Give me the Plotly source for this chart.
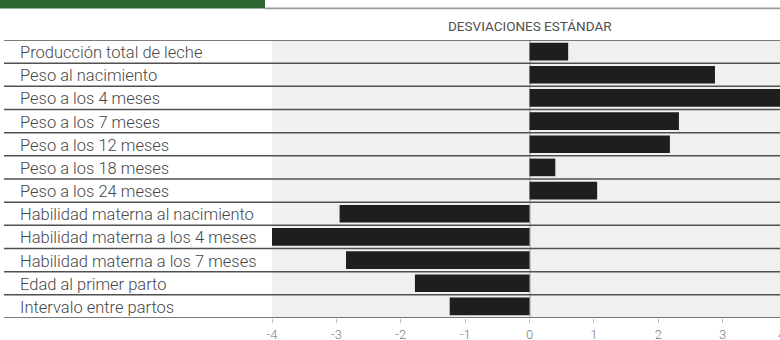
import plotly.graph_objects as go

# Data: standard deviations per trait
categories = [
    "Producción total de leche",
    "Peso al nacimiento",
    "Peso a los 4 meses",
    "Peso a los 7 meses",
    "Peso a los 12 meses",
    "Peso a los 18 meses",
    "Peso a los 24 meses",
    "Habilidad materna al nacimiento",
    "Habilidad materna a los 4 meses",
    "Habilidad materna a los 7 meses",
    "Edad al primer parto",
    "Intervalo entre partos",
]
values = [0.6, 2.88, 4.0, 2.32, 2.18, 0.4, 1.05, -2.95, -4.0, -2.85, -1.78, -1.24]
tick_values = [-4, -3, -2, -1, 0, 1, 2, 3, 4]
tick_labels = ["-4", "-3", "-2", "-1", "0", "1", "2", "3", "4"]
axis_title = "DESVIACIONES ESTÁNDAR"

# Layout geometry (pixels)
W, H = 780, 340
ML, MR, MT, MB = 272, 0, 40, 22
PW = W - ML - MR
PH = H - MT - MB
X_MIN, X_MAX = -4, 3.89

LIGHT = "Roboto Light, Roboto, sans-serif"


def px_to_paper_x(px):
    return (px - ML) / PW


def px_to_paper_y(py):
    return (H - MB - py) / PH


fig = go.Figure()
fig.add_trace(go.Bar(
    x=values,
    y=categories,
    orientation="h",
    marker=dict(color="#1e1e1e", line=dict(width=0)),
    hoverinfo="x+y",
))

shapes = []
# Row separators running across labels and plot
for i in range(len(categories) + 1):
    shapes.append(dict(
        type="line", xref="paper", yref="y",
        x0=px_to_paper_x(4), x1=1, y0=i - 0.5, y1=i - 0.5,
        line=dict(color="#505050", width=1.5), layer="above",
    ))
# Header band: green block and grey rule
shapes.append(dict(
    type="rect", xref="paper", yref="paper",
    x0=px_to_paper_x(0), x1=px_to_paper_x(265),
    y0=px_to_paper_y(8.5), y1=px_to_paper_y(-1),
    fillcolor="#2c6530", line=dict(width=0),
))
shapes.append(dict(
    type="line", xref="paper", yref="paper",
    x0=px_to_paper_x(265), x1=1,
    y0=px_to_paper_y(8.3), y1=px_to_paper_y(8.3),
    line=dict(color="#9a9a9a", width=1.7),
))

annotations = []
for cat in categories:
    annotations.append(dict(
        x=px_to_paper_x(18), xref="paper", y=cat, yref="y",
        text=cat, showarrow=False, xanchor="left", yanchor="middle",
        yshift=-1,
        font=dict(family=LIGHT, size=16.5, color="#474747", weight=300),
    ))
annotations.append(dict(
    x=0, xref="x", y=1, yref="paper", yanchor="bottom", yshift=4,
    text=axis_title, showarrow=False,
    font=dict(family="Roboto", size=13.5, color="#505050"),
))
# Last tick label sits just past the right edge, partially visible
last_tick = tick_values[-1]
annotations.append(dict(
    x=(last_tick - X_MIN) / (X_MAX - X_MIN), xref="paper",
    y=0, yref="paper", yanchor="top", yshift=-7,
    text=tick_labels[-1], showarrow=False,
    font=dict(family=LIGHT, size=13, color="#7a7a7a", weight=300),
))

fig.update_layout(
    width=W, height=H,
    margin=dict(l=ML, r=MR, t=MT, b=MB, pad=0, autoexpand=False),
    paper_bgcolor="white",
    plot_bgcolor="#f0f0f0",
    bargap=0.24,
    showlegend=False,
    shapes=shapes,
    annotations=annotations,
    xaxis=dict(
        range=[X_MIN, X_MAX],
        tickvals=tick_values, ticktext=tick_labels,
        showgrid=False, automargin=False,
        zeroline=True, zerolinecolor="#c8c8c8", zerolinewidth=2,
        ticks="outside", ticklen=4, tickcolor="#c0c0c0", tickwidth=1,
        tickfont=dict(family=LIGHT, size=13, color="#7a7a7a", weight=300),
        showline=False, fixedrange=True,
    ),
    yaxis=dict(
        categoryorder="array", categoryarray=categories,
        range=[len(categories) - 0.5, -0.5],
        showticklabels=False, showgrid=False, zeroline=False,
        ticks="", fixedrange=True, automargin=False,
    ),
)

fig.write_html("out.html", config={"displayModeBar": False})
